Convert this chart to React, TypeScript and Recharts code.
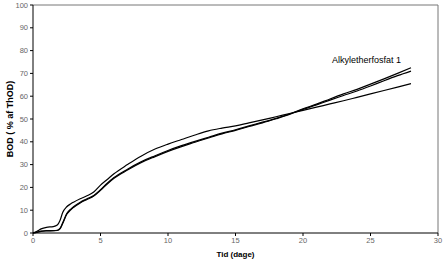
import React from "react";
import {
  LineChart, Line, XAxis, YAxis, ReferenceLine, ReferenceDot,
} from "recharts";

// days on the x axis
const days = [
  0, 0.3, 0.6, 1, 1.5, 1.8, 2, 2.2, 2.5, 2.8, 3, 3.5, 4, 4.5, 5, 5.5, 6, 7, 8, 9,
  10, 11, 12, 13, 14, 15, 16, 17, 18, 19, 20, 21, 22, 23, 24, 25, 26, 27, 28,
];

// BOD (% of ThOD), three replicate curves
const serieA = [
  0, 0.8, 1.8, 2.5, 2.8, 3.5, 5.5, 9, 11.5, 12.8, 13.5, 15, 16.3, 18, 21, 23.5, 26, 30, 33.7, 36.7,
  39, 41, 43, 44.8, 46, 47, 48.3, 49.6, 51, 52.4, 53.8, 55.2, 56.6, 58, 59.5, 61, 62.5, 64, 65.5,
];
const serieB = [
  0, 0.4, 0.8, 1, 1, 1.2, 2, 4.5, 8.5, 10.5, 11.5, 13.5, 15, 16.5, 19, 21.8, 24.3, 28, 31.2, 33.8,
  36.2, 38.3, 40.2, 42, 43.8, 45.3, 47, 48.6, 50.3, 52.2, 54.5, 56.5, 58.8, 61, 63, 65.3, 67.6, 70, 72.5,
];
const serieC = [
  0, 0.3, 0.7, 0.9, 1, 1.1, 1.8, 4.2, 8.2, 10.2, 11.2, 13.2, 14.7, 16.2, 18.7, 21.5, 24, 27.6, 30.8, 33.4,
  35.8, 37.9, 39.8, 41.7, 43.5, 45, 46.7, 48.3, 50.1, 52, 54.2, 56.2, 58.3, 60.3, 62.3, 64.5, 66.8, 69, 71,
];

const xTicks = [0, 5, 10, 15, 20, 25, 30];
const yTicks = [0, 10, 20, 30, 40, 50, 60, 70, 80, 90, 100];

const data = days.map((d, i) => ({ dag: d, a: serieA[i], b: serieB[i], c: serieC[i] }));

const tickStyle = { fontSize: 7.5, fill: "#666", fontFamily: "Liberation Sans, Arial, sans-serif" };

export default function App() {
  return (
    <div style={{ position: "absolute", left: 0, top: 0, background: "#fff" }}>
      <LineChart width={447} height={270} data={data} margin={{ top: 5, right: 9, left: 0, bottom: 0 }}>
        <XAxis
          dataKey="dag"
          type="number"
          domain={[0, 30]}
          ticks={xTicks}
          tick={tickStyle}
          tickSize={3}
          stroke="#000"
          height={37}
          label={{
            value: "Tid (dage)",
            position: "insideBottom",
            offset: 13,
            style: { fontSize: 8, fontWeight: 700, fill: "#000", fontFamily: "Liberation Sans, Arial, sans-serif" },
          }}
        />
        <YAxis
          type="number"
          domain={[0, 100]}
          ticks={yTicks}
          tick={tickStyle}
          tickSize={3}
          stroke="#000"
          width={33}
          label={{
            value: "BOD ( % af ThOD)",
            angle: -90,
            position: "insideLeft",
            offset: 10,
            style: { textAnchor: "middle", fontSize: 9, fontWeight: 700, fill: "#000", fontFamily: "Liberation Sans, Arial, sans-serif" },
          }}
        />
        <ReferenceLine y={100} stroke="#777" strokeWidth={1} />
        <ReferenceLine x={30} stroke="#777" strokeWidth={1} />
        <Line dataKey="a" type="monotone" stroke="#000" strokeWidth={1.2} dot={false} isAnimationActive={false} />
        <Line dataKey="b" type="monotone" stroke="#000" strokeWidth={1.2} dot={false} isAnimationActive={false} />
        <Line dataKey="c" type="monotone" stroke="#000" strokeWidth={1.2} dot={false} isAnimationActive={false} />
        <ReferenceDot
          x={24.7}
          y={76}
          r={0}
          label={{
            value: "Alkyletherfosfat 1",
            position: "center",
            style: { fontSize: 9, fill: "#000", fontFamily: "Liberation Sans, Arial, sans-serif" },
          }}
        />
      </LineChart>
    </div>
  );
}
